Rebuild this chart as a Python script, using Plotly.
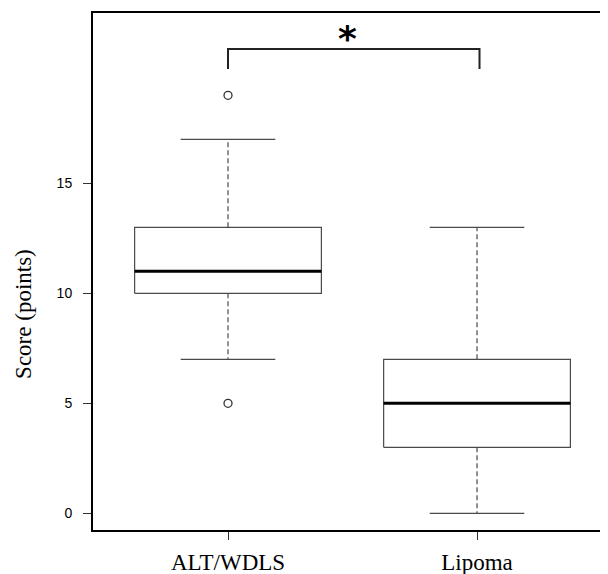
import plotly.graph_objects as go

categories = ["ALT/WDLS", "Lipoma"]
positions = [1, 2]
q1 = [10, 3]
median = [11, 5]
q3 = [13, 7]
whisker_low = [7, 0]
whisker_high = [17, 13]
outliers = [[5, 19], []]
y_ticks = [0, 5, 10, 15]
bracket_low = 20.2
bracket_high = 21.1
sig_label = "*"

box_half = 0.375
cap_half = 0.19
box_color = "#4a4a4a"

fig = go.Figure()

for i, p in enumerate(positions):
    # box
    fig.add_trace(go.Scatter(
        x=[p - box_half, p + box_half, p + box_half, p - box_half, p - box_half],
        y=[q1[i], q1[i], q3[i], q3[i], q1[i]],
        mode="lines", line=dict(color=box_color, width=1.2), hoverinfo="skip"))
    # median
    fig.add_trace(go.Scatter(
        x=[p - box_half, p + box_half], y=[median[i], median[i]],
        mode="lines", line=dict(color="black", width=3), hoverinfo="skip"))
    # whiskers (dashed)
    fig.add_trace(go.Scatter(
        x=[p, p, None, p, p],
        y=[q3[i], whisker_high[i], None, q1[i], whisker_low[i]],
        mode="lines", line=dict(color=box_color, width=1.2, dash="5px,3px"),
        hoverinfo="skip"))
    # caps
    fig.add_trace(go.Scatter(
        x=[p - cap_half, p + cap_half, None, p - cap_half, p + cap_half],
        y=[whisker_high[i], whisker_high[i], None, whisker_low[i], whisker_low[i]],
        mode="lines", line=dict(color=box_color, width=1.2), hoverinfo="skip"))
    # outliers
    if outliers[i]:
        fig.add_trace(go.Scatter(
            x=[p] * len(outliers[i]), y=outliers[i], mode="markers",
            marker=dict(symbol="circle-open", size=8, color="#333",
                        line=dict(width=1.3)),
            hoverinfo="skip"))

# significance bracket
fig.add_trace(go.Scatter(
    x=[positions[0], positions[0], positions[1] + 0.01, positions[1] + 0.01],
    y=[bracket_low, bracket_high, bracket_high, bracket_low],
    mode="lines", line=dict(color="#222", width=2), hoverinfo="skip"))

fig.add_annotation(x=(positions[0] + positions[1]) / 2 - 0.02, y=bracket_high,
                   text="<b>" + sig_label + "</b>", showarrow=False, yanchor="bottom",
                   yshift=-12, font=dict(family="DejaVu Sans", size=36, color="black"))

fig.add_annotation(x=-0.134, y=0.418, xref="paper", yref="paper",
                   xanchor="center", yanchor="middle",
                   text="Score (points)", textangle=-90, showarrow=False,
                   font=dict(family="Liberation Serif", size=23, color="black"))

fig.update_layout(
    width=600, height=566,
    margin=dict(l=85, r=0, t=5, b=44),
    plot_bgcolor="white", paper_bgcolor="white",
    showlegend=False,
    xaxis=dict(range=[0.4578, 2.526], tickvals=positions, ticktext=categories,
               ticks="outside", ticklen=8, tickcolor="#333", tickwidth=1.2,
               showline=True, linecolor="black", linewidth=2, mirror=True,
               showgrid=False, zeroline=False, ticklabelstandoff=2,
               tickfont=dict(family="Liberation Serif", size=23, color="black")),
    yaxis=dict(range=[-0.76, 22.74], tickvals=y_ticks,
               ticks="outside", ticklen=8, tickcolor="#333", tickwidth=1.2,
               showline=True, linecolor="black", linewidth=2, mirror=False,
               showgrid=False, zeroline=False, ticklabelstandoff=8,
               tickfont=dict(family="Liberation Sans", size=14, color="black")),
)

fig.write_html("out.html")
